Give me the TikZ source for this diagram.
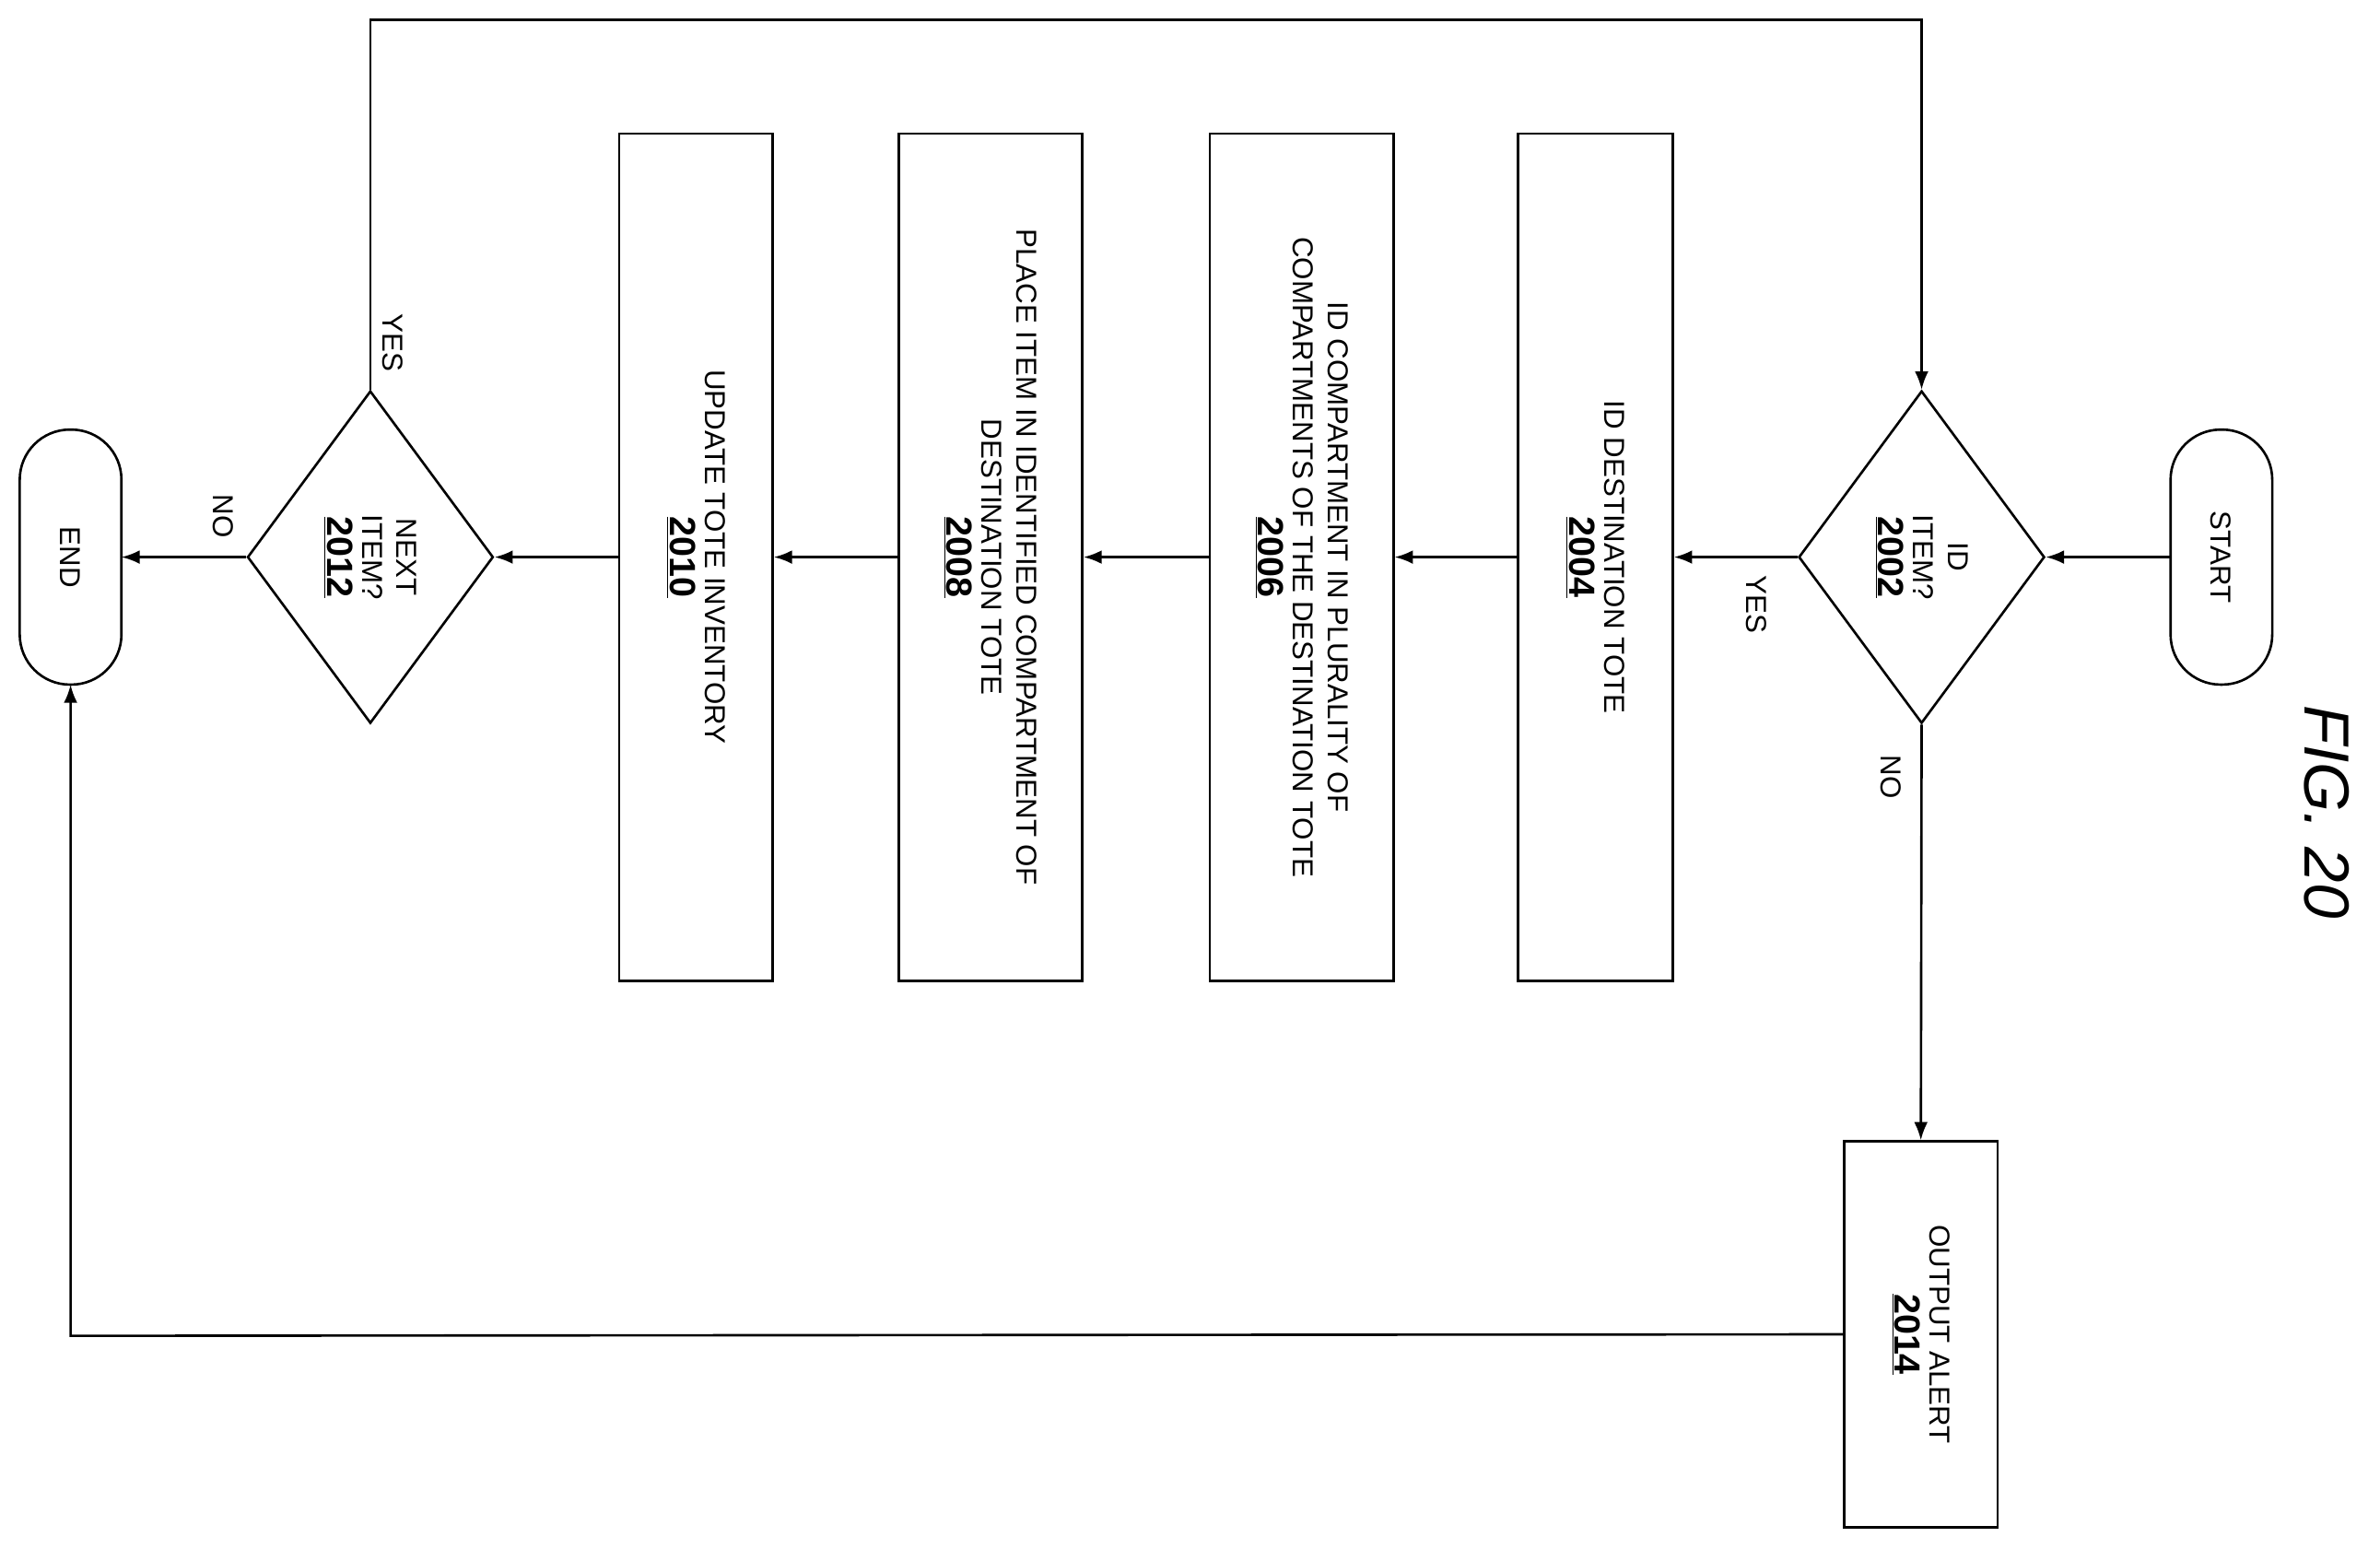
\documentclass[tikz,border=0pt]{standalone}
\usepackage{fontspec}
\setmainfont{Liberation Sans}
\usetikzlibrary{shapes.geometric,arrows.meta}
\begin{document}
\begin{tikzpicture}[x=1pt,y=-1pt,
 box/.style={draw,line width=1.6pt,inner sep=0},
 txt/.style={rotate=-90,align=center,font=\fontsize{19}{23}\selectfont},
 dia/.style={draw,line width=1.6pt,diamond,inner sep=0,shape aspect=0.74,minimum width=162pt,minimum height=219pt},
 term/.style={draw,line width=1.6pt,rounded corners=33pt,inner sep=0},
 arr/.style={line width=1.6pt,-{Latex[length=12pt,width=9pt]}},
 num/.style={}]
\useasboundingbox (0,0) rectangle (1568,1020);
\newcommand{\nm}[1]{\underline{\fontsize{24}{28}\selectfont\textbf{#1}}}
\draw[term] (1430,283) rectangle (1497,451);
\node[txt] (start) at (1463,367) {START};
\coordinate (startL) at (1430,367);
\node[dia] (d1) at (1266,367) {};
\node[txt] at (1266,367) {ID\\ITEM?\\\nm{2002}};
\node[box,minimum width=102pt,minimum height=558pt] (b4) at (1051,367) {};
\node[txt] at (1051,367) {ID DESTINATION TOTE\\\nm{2004}};
\node[box,minimum width=121pt,minimum height=558pt] (b6) at (857.5,367) {};
\node[txt] at (857.5,367) {ID COMPARTMENT IN PLURALITY OF\\COMPARTMENTS OF THE DESTINATION TOTE\\\nm{2006}};
\node[box,minimum width=121pt,minimum height=558pt] (b8) at (652.5,367) {};
\node[txt] at (652.5,367) {PLACE ITEM IN IDENTIFIED COMPARTMENT OF\\DESTINATION TOTE\\\nm{2008}};
\node[box,minimum width=101pt,minimum height=558pt] (b10) at (458.5,367) {};
\node[txt] at (458.5,367) {UPDATE TOTE INVENTORY\\\nm{2010}};
\node[dia] (d2) at (244,367) {};
\node[txt] at (244,367) {NEXT\\ITEM?\\\nm{2012}};
\draw[term] (13,283) rectangle (80,451);
\node[txt] (end) at (46.5,367) {END};
\coordinate (endR) at (80,367);
\coordinate (endB) at (46.5,451);
\node[box,minimum width=101pt,minimum height=254pt] (b14) at (1265.5,879) {};
\node[txt] at (1265.5,879) {OUTPUT ALERT\\\nm{2014}};
\draw[arr] (startL) -- (d1.east);
\draw[arr] (d1.west) -- (b4.east);
\draw[arr] (b4.west) -- (b6.east);
\draw[arr] (b6.west) -- (b8.east);
\draw[arr] (b8.west) -- (b10.east);
\draw[arr] (b10.west) -- (d2.east);
\draw[arr] (d2.west) -- (endR);
\draw[arr] (d2.north) -- (244,13) -- (1266,13) -- (d1.north);
\draw[arr] (d1.south) -- (b14.north);
\draw[arr] (b14.west) -- (46.5,880) -- (endB);
\node[txt] at (1157,398) {YES};
\node[txt] at (259,226) {YES};
\node[txt] at (147,340) {NO};
\node[txt] at (1246,512) {NO};
\node[rotate=-90,font=\fontsize{42}{48}\selectfont\itshape] at (1533,535) {FIG. 20};
\end{tikzpicture}
\end{document}
